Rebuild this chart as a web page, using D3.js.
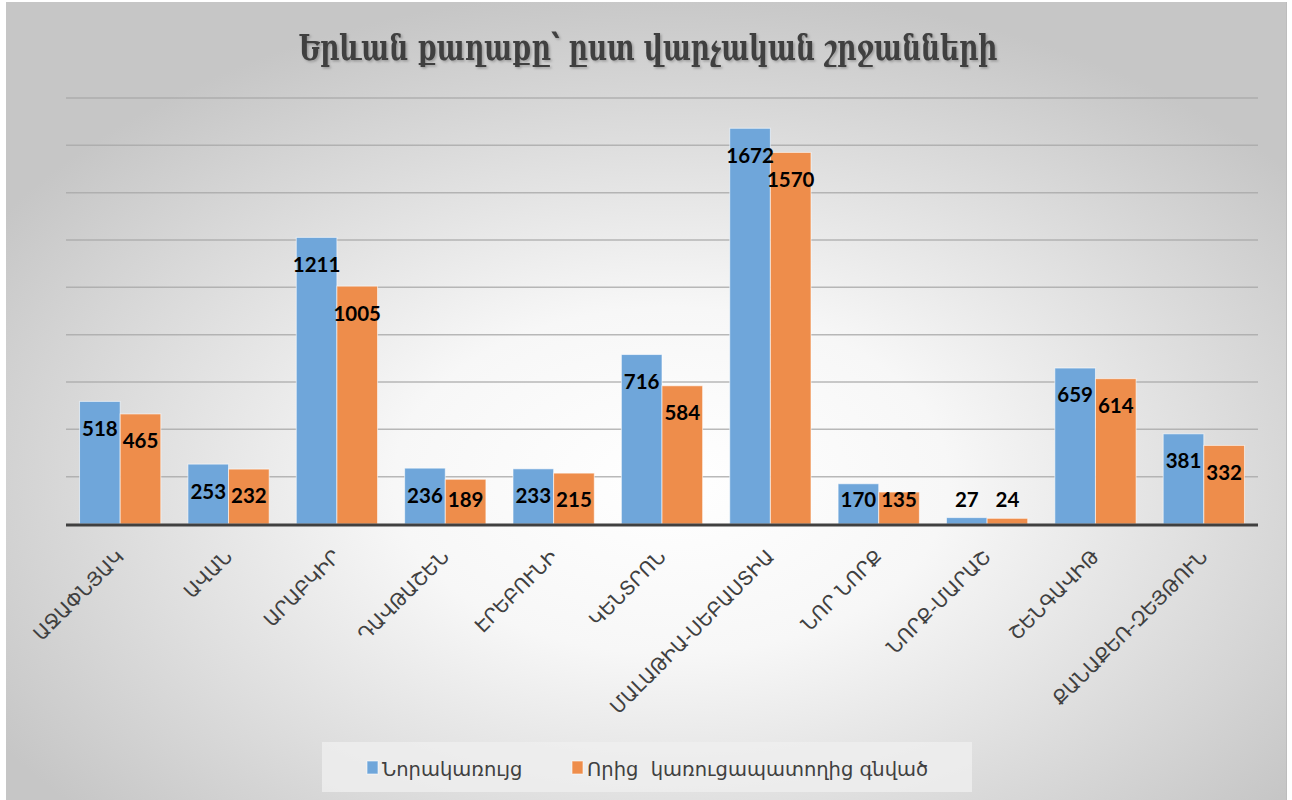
<!DOCTYPE html>
<html lang="hy">
<head>
<meta charset="utf-8">
<script src="https://d3js.org/d3.v7.min.js"></script>
<style type="text/css">
body {
	margin: 0;
	background-color: #ffffff;
}
.tick-label {
	font: 19.5px "DejaVu Sans", sans-serif;
	fill: #404040;
}
.value-label {
	font: bold 20.5px Lato, "DejaVu Sans", sans-serif;
	fill: #000;
}
.legend text {
	font: 19.5px "DejaVu Sans", sans-serif;
	fill: #404040;
	white-space: pre;
}
</style>
</head>
<body>
<script type="text/javascript">

// chart data
var districts = ["ԱՋԱՓՆՅԱԿ", "ԱՎԱՆ", "ԱՐԱԲԿԻՐ", "ԴԱՎԹԱՇԵՆ", "ԷՐԵԲՈՒՆԻ", "ԿԵՆՏՐՈՆ",
  "ՄԱԼԱԹԻԱ-ՍԵԲԱՍՏԻԱ", "ՆՈՐ ՆՈՐՔ", "ՆՈՐՔ-ՄԱՐԱՇ", "ՇԵՆԳԱՎԻԹ", "ՔԱՆԱՔԵՌ-ԶԵՅԹՈՒՆ"];
var newBuilt = [518, 253, 1211, 236, 233, 716, 1672, 170, 27, 659, 381];
var fromDevelopers = [465, 232, 1005, 189, 215, 584, 1570, 135, 24, 614, 332];
var seriesNames = ["Նորակառույց", "Որից  կառուցապատողից գնված"];
var seriesColors = ["#6fa6da", "#ee8d4b"];
var gridValues = [200, 400, 600, 800, 1000, 1200, 1400, 1600, 1800];

var width = 1292, height = 800;
var plot = {left: 66, right: 1258, top: 98, bottom: 524};

var svg = d3.select("body").append("svg")
  .attr("width", width)
  .attr("height", height);

// background
var defs = svg.append("defs");
var bg = defs.append("radialGradient")
  .attr("id", "bg")
  .attr("cx", "52%").attr("cy", "60%")
  .attr("r", "62%");
bg.append("stop").attr("offset", "0%").attr("stop-color", "#ffffff");
bg.append("stop").attr("offset", "35%").attr("stop-color", "#f7f7f7");
bg.append("stop").attr("offset", "100%").attr("stop-color", "#c6c6c6");

var shadow = defs.append("filter").attr("id", "shadow")
  .attr("x", "-5%").attr("y", "-20%").attr("width", "110%").attr("height", "140%");
shadow.append("feDropShadow")
  .attr("dx", 1.5).attr("dy", 1.5).attr("stdDeviation", 1)
  .attr("flood-color", "#000").attr("flood-opacity", 0.25);

svg.append("rect")
  .attr("x", 6).attr("y", 2)
  .attr("width", 1280).attr("height", 798)
  .attr("fill", "url(#bg)");
svg.append("line")
  .attr("x1", 1286.5).attr("x2", 1286.5).attr("y1", 2).attr("y2", 800)
  .attr("stroke", "#bdbdbd");

// title
svg.append("text")
  .attr("x", 648).attr("y", 60)
  .attr("text-anchor", "middle")
  .attr("textLength", 699)
  .attr("lengthAdjust", "spacingAndGlyphs")
  .attr("filter", "url(#shadow)")
  .style("font", "bold 35px 'DejaVu Serif', serif")
  .style("font-stretch", "condensed")
  .style("fill", "#404040")
  .text("Երևան քաղաքը՝ ըստ վարչական շրջանների");

// scales
var x0 = d3.scaleBand()
  .domain(districts)
  .range([plot.left, plot.right])
  .paddingInner(0.25)
  .paddingOuter(0.125);

var x1 = d3.scaleBand()
  .domain([0, 1])
  .range([0, x0.bandwidth()]);

var y = d3.scaleLinear()
  .domain([0, 1800])
  .range([plot.bottom, plot.top]);

// gridlines
svg.append("g").selectAll("line")
  .data(gridValues)
  .enter().append("line")
  .attr("x1", plot.left).attr("x2", plot.right)
  .attr("y1", function(d) { return y(d); })
  .attr("y2", function(d) { return y(d); })
  .attr("stroke", "#a8a8a8")
  .attr("stroke-opacity", 0.8)
  .attr("stroke-width", 1.5);

// bars
var rows = districts.map(function(d, i) {
  return {name: d, values: [newBuilt[i], fromDevelopers[i]]};
});

var groups = svg.append("g").selectAll("g")
  .data(rows)
  .enter().append("g")
  .attr("transform", function(d) { return "translate(" + x0(d.name) + ",0)"; });

groups.selectAll("rect")
  .data(function(d) { return d.values; })
  .enter().append("rect")
  .attr("x", function(d, i) { return x1(i); })
  .attr("width", x1.bandwidth())
  .attr("y", function(d) { return y(d); })
  .attr("height", function(d) { return y(0) - y(d); })
  .attr("fill", function(d, i) { return seriesColors[i]; })
  .attr("stroke", "#ffffff")
  .attr("stroke-opacity", 0.6)
  .attr("stroke-width", 1);

groups.selectAll("text")
  .data(function(d) { return d.values; })
  .enter().append("text")
  .attr("class", "value-label")
  .attr("x", function(d, i) { return x1(i) + x1.bandwidth() / 2; })
  .attr("y", function(d) { return Math.min(y(d) + 27, 500); })
  .attr("dy", "0.36em")
  .attr("text-anchor", "middle")
  .text(function(d) { return d; });

// baseline
svg.append("line")
  .attr("x1", plot.left).attr("x2", plot.right)
  .attr("y1", plot.bottom + 1).attr("y2", plot.bottom + 1)
  .attr("stroke", "#404040")
  .attr("stroke-width", 3);

// category labels
var xAxis = d3.axisBottom(x0).tickSize(0).tickPadding(0);
var axisG = svg.append("g")
  .attr("transform", "translate(0," + (plot.bottom + 3) + ")")
  .call(xAxis);
axisG.select(".domain").remove();
axisG.selectAll("text")
  .attr("class", "tick-label")
  .attr("text-anchor", "end")
  .attr("dy", null)
  .attr("y", 0)
  .attr("transform", "translate(5,31) rotate(-45)");

// legend
var legend = svg.append("g").attr("class", "legend");
legend.append("rect")
  .attr("x", 322).attr("y", 742)
  .attr("width", 650).attr("height", 50)
  .attr("fill", "#efefef")
  .attr("fill-opacity", 0.8);

var legendX = [367, 572];
var items = legend.selectAll("g.item")
  .data(seriesNames)
  .enter().append("g")
  .attr("class", "item")
  .attr("transform", function(d, i) { return "translate(" + legendX[i] + ",761)"; });
items.append("rect")
  .attr("width", 11).attr("height", 13)
  .attr("fill", function(d, i) { return seriesColors[i]; })
  .attr("stroke", "#ffffff")
  .attr("stroke-opacity", 0.6);
items.append("text")
  .attr("x", 15).attr("y", 15)
  .text(function(d) { return d; });

</script>
</body>
</html>
